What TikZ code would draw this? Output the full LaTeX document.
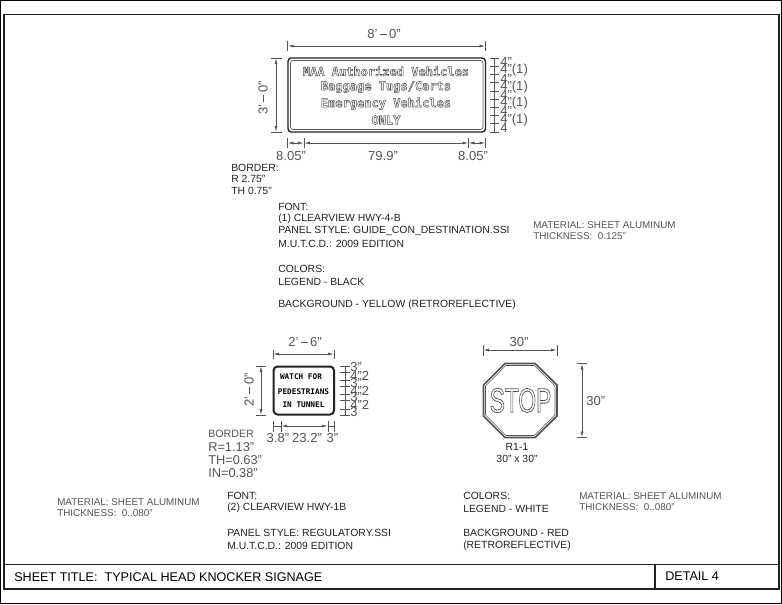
\documentclass[tikz,border=0pt]{standalone}
\usepackage{fontspec}
\setmainfont{Liberation Sans}
\newfontfamily\signfont{DejaVu Sans Mono}
\usetikzlibrary{arrows.meta}
\definecolor{inkdark}{rgb}{0.13,0.13,0.13}
\definecolor{inkgray}{rgb}{0.33,0.33,0.33}
% outlined letters, stroked and not filled
\newcommand{\outlntxt}[2]{\special{pdf:code q 0.33 G #1 w 1 Tr}#2\special{pdf:code Q}}
\newcommand{\ftdash}{\,\rule[0.27em]{0.55em}{0.06em}\,}
\tikzset{
  lbl/.style={anchor=west,inner sep=0.75pt,text=inkdark,font=\fontsize{7.8pt}{8pt}\selectfont},
  lblgray/.style={lbl,text=inkgray,font=\fontsize{7.4pt}{8pt}\selectfont},
  lblthin/.style={lbl,text=inkgray,font=\fontsize{9.6pt}{10pt}\selectfont},
  dimtxt/.style={inner sep=0.75pt,text=inkgray,font=\fontsize{9.8pt}{10pt}\selectfont},
  dimln/.style={draw=inkgray,line width=0.6pt,{Latex[length=4.5pt,width=2.2pt]}-{Latex[length=4.5pt,width=2.2pt]}},
  tickln/.style={draw=inkgray,line width=0.5pt},
  signln/.style={inner sep=0pt,text=inkgray,font=\signfont\bfseries\fontsize{9pt}{10pt}\selectfont},
  signsm/.style={inner sep=0pt,text=black,font=\signfont\bfseries\fontsize{5.8pt}{6pt}\selectfont},
}
\begin{document}
\begin{tikzpicture}[x=0.75pt,y=0.75pt,yscale=-1,xscale=1]
    \useasboundingbox (0,0) rectangle (782,604);
    % sheet frame
    \draw [line width=0.9pt] (0.5,0.6) rectangle (781.5,603.5);
    \draw [line width=1pt,draw=inkdark] (4,14.5) rectangle (779,589);
    \draw [line width=1pt,draw=inkdark] (4,564.5) -- (779,564.5);
    \draw [line width=1pt,draw=inkdark] (655,564.5) -- (655,589);
    \node (sheettitle) [lbl,font=\fontsize{9.45pt}{10pt}\selectfont,text=black] at (13,577) {SHEET TITLE:\ \ TYPICAL HEAD KNOCKER SIGNAGE};
    \node (detailno) [lbl,font=\fontsize{9.45pt}{10pt}\selectfont,text=black] at (664,576) {DETAIL 4};

    % guide sign
    \draw [line width=1.1pt,draw=inkdark,rounded corners=2.5pt] (288,58) rectangle (485.5,132);
    \draw [line width=0.5pt,draw=inkgray,rounded corners=2pt] (290.5,60.5) rectangle (483,129.5);
    \node (guideone) [signln] at (386,71) {\outlntxt{0.4}{MAA Authorized Vehicles}};
    \node (guidetwo) [signln] at (386,87) {\outlntxt{0.4}{Baggage Tugs/Carts}};
    \node (guidethree) [signln] at (386,103.5) {\outlntxt{0.4}{Emergency Vehicles}};
    \node (guidefour) [signln] at (386,120) {\outlntxt{0.4}{ONLY}};
    % guide sign dimensions
    \draw [tickln] (287.5,41) -- (287.5,51) (485.5,41) -- (485.5,51);
    \draw [dimln] (287.5,46) -- (485.5,46);
    \node (widthone) [dimtxt] at (384,34) {8'\ftdash0"};
    \draw [tickln] (271,58) -- (282,58) (271,132) -- (282,132);
    \draw [dimln] (276,58) -- (276,132);
    \node (heightone) [dimtxt,rotate=90] at (263,98) {3'\ftdash0"};
    \draw [tickln] (287.5,138) -- (287.5,148) (304,138) -- (304,148) (468.5,138) -- (468.5,148) (485.5,138) -- (485.5,148);
    \draw [dimln] (287.5,143) -- (304,143);
    \draw [dimln] (304,143) -- (468.5,143);
    \draw [dimln] (468.5,143) -- (485.5,143);
    \node (bordleft) [dimtxt] at (291,156) {8.05"};
    \node (bordmid) [dimtxt] at (383,156) {79.9"};
    \node (bordright) [dimtxt] at (473,156) {8.05"};
    % stack of letter heights
    \draw [tickln] (494,58) -- (494,132);
    \foreach \k in {0,...,9} {\draw [tickln] (490,58+8.22*\k) -- (499,58+8.22*\k);}
    \foreach \k/\t in {0/4",1/4"(1),2/4",3/4"(1),4/4",5/4"(1),6/4",7/4"(1),8/4} {
      \node (stackone\k) [dimtxt,anchor=west,inner sep=0pt] at (500,62.1+8.22*\k) {\t};
    }

    % notes of the guide sign
    \node (nbord) [lbl] at (230,168) {BORDER:};
    \node (nbordr) [lbl] at (230,179) {R 2.75"};
    \node (nbordt) [lbl] at (230,191) {TH 0.75"};
    \node (nfont) [lbl] at (277,207) {FONT:};
    \node (nface) [lbl] at (277,218.5) {(1) CLEARVIEW HWY-4-B};
    \node (npanel) [lbl] at (277,231) {PANEL STYLE: GUIDE\_CON\_DESTINATION.SSI};
    \node (nmutcd) [lbl] at (277,244) {M.U.T.C.D.: 2009 EDITION};
    \node (ncolors) [lbl] at (277,269) {COLORS:};
    \node (nlegend) [lbl] at (277,282) {LEGEND - BLACK};
    \node (nback) [lbl] at (277,305) {BACKGROUND - YELLOW (RETROREFLECTIVE)};
    \node (nmat) [lblgray] at (532,225) {MATERIAL: SHEET ALUMINUM};
    \node (nthick) [lblgray] at (532,236) {THICKNESS:\ \ 0.125"};

    % regulatory sign
    \draw [line width=1.5pt,draw=inkdark,rounded corners=3pt] (273.5,366.5) rectangle (334,414.5);
    \node (wtchone) [signsm] at (301,377) {WATCH FOR};
    \node (wtchtwo) [signsm] at (303.5,391.5) {PEDESTRIANS};
    \node (wtchthree) [signsm] at (303.5,405) {IN TUNNEL};
    % regulatory sign dimensions
    \draw [tickln] (273,350) -- (273,359) (334,350) -- (334,359);
    \draw [dimln] (273,354) -- (334,354);
    \node (widthtwo) [dimtxt] at (305,342) {2'\ftdash6"};
    \draw [tickln] (256,366) -- (266,366) (256,415) -- (266,415);
    \draw [dimln] (261,366) -- (261,415);
    \node (heighttwo) [dimtxt,rotate=90] at (249,390) {2'\ftdash0"};
    \draw [tickln] (273,421) -- (273,432) (281,421) -- (281,432) (328,421) -- (328,432) (334,421) -- (334,432);
    \draw [dimln] (281,426) -- (328,426);
    \draw [tickln] (273,426) -- (281,426) (328,426) -- (334,426);
    \node (insetleft) [dimtxt] at (278,438) {3.8"};
    \node (insetmid) [dimtxt] at (307,438) {23.2"};
    \node (insetright) [dimtxt] at (332.5,438) {3"};
    % stack of letter heights
    \draw [tickln] (345,366) -- (345,415);
    \foreach \yy in {366,372,380,386,394,400,409,415} {\draw [tickln] (340,\yy) -- (350,\yy);}
    \foreach \k/\yy/\t in {1/366.5/3",2/376/4"2,3/383/3",4/391/4"2,5/397/3",6/405/4"2,7/412/3} {
      \node (stacktwo\k) at (350,\yy) [dimtxt,anchor=west,inner sep=0pt] {\t};
    }
    \node (bordtwo) [lblthin,font=\fontsize{8pt}{9pt}\selectfont] at (207,434) {BORDER};
    \node (bordtwor) [lblthin] at (207,447) {R=1.13"};
    \node (bordtwot) [lblthin] at (207,460) {TH=0.63"};
    \node (bordtwoi) [lblthin] at (207,473) {IN=0.38"};
    \node (nmattwo) [lblgray] at (56,502) {MATERIAL: SHEET ALUMINUM};
    \node (nthicktwo) [lblgray] at (56,513) {THICKNESS:\ \ 0..080"};
    \node (nfonttwo) [lbl] at (226,496) {FONT:};
    \node (nfacetwo) [lbl] at (226,508) {(2) CLEARVIEW HWY-1B};
    \node (npaneltwo) [lbl] at (226,533) {PANEL STYLE: REGULATORY.SSI};
    \node (nmutcdtwo) [lbl] at (226,546) {M.U.T.C.D.: 2009 EDITION};

    % stop sign
    \draw [line width=1.3pt,draw=inkgray] (505,363.5) -- (535,363.5) -- (557,385) -- (557,416) -- (535,437.5) -- (505,437.5) -- (483.5,416) -- (483.5,385) -- cycle;
    \draw [line width=0.4pt,draw=inkgray] (505.8,365.5) -- (534.2,365.5) -- (555,386) -- (555,415) -- (534.2,435.5) -- (505.8,435.5) -- (485.5,415) -- (485.5,386) -- cycle;
    \node (stoptxt) [inner sep=0pt,xscale=0.67,font=\fontsize{25.5pt}{26pt}\selectfont] at (520.5,400.5) {\outlntxt{0.6}{STOP}};
    \draw [tickln] (483,345) -- (483,356) (557,345) -- (557,356);
    \draw [dimln] (483,350) -- (557,350);
    \node (widthstop) [dimtxt] at (519,342) {30"};
    \draw [tickln] (577,363.5) -- (587,363.5) (577,437.5) -- (587,437.5);
    \draw [dimln] (582,363.5) -- (582,437.5);
    \node (heightstop) [dimtxt,anchor=west] at (585,401) {30"};
    \node (rcode) [lbl,anchor=center] at (517,447) {R1-1};
    \node (rsize) [lbl,anchor=center] at (517,458.5) {30" x 30"};
    \node (ncolorsb) [lbl] at (462,496) {COLORS:};
    \node (nlegendb) [lbl] at (462,509) {LEGEND - WHITE};
    \node (nbackb) [lbl] at (462,533) {BACKGROUND - RED};
    \node (nretrob) [lbl] at (462,546) {(RETROREFLECTIVE)};
    \node (nmatb) [lblgray] at (578,496) {MATERIAL: SHEET ALUMINUM};
    \node (nthickb) [lblgray] at (578,507) {THICKNESS:\ \ 0..080"};
\end{tikzpicture}
\end{document}
